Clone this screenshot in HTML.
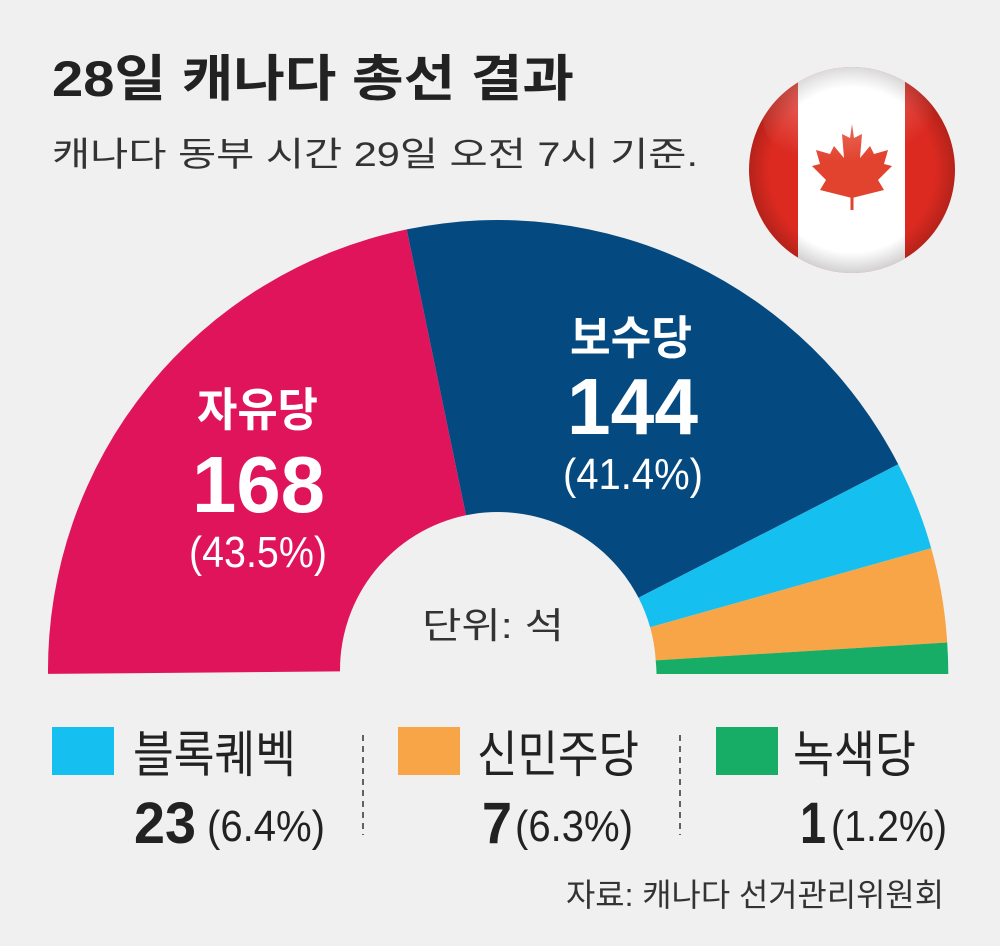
<!DOCTYPE html>
<html><head><meta charset="utf-8"><style>
html,body{margin:0;padding:0;background:#f0f0f0;}
svg{display:block;}
text{font-family:"Liberation Sans","Noto Sans CJK KR",sans-serif;}
</style></head><body>
<svg width="1000" height="946" viewBox="0 0 1000 946" xmlns="http://www.w3.org/2000/svg">
<defs>
<radialGradient id="gl" cx="0.45" cy="0.3" r="0.6">
<stop offset="0" stop-color="#fff" stop-opacity="0.35"/>
<stop offset="1" stop-color="#fff" stop-opacity="0"/>
</radialGradient>
<radialGradient id="sh" cx="0.5" cy="0.5" r="0.5">
<stop offset="0.8" stop-color="#000" stop-opacity="0"/>
<stop offset="1" stop-color="#000" stop-opacity="0.18"/>
</radialGradient>
<clipPath id="cc"><circle cx="852" cy="170" r="103"/></clipPath>
<clipPath id="bot"><rect x="0" y="0" width="1000" height="674"/></clipPath>
</defs>
<rect width="1000" height="946" fill="#f0f0f0"/>
<text x="52" y="96" font-size="50" font-weight="bold" fill="#222" textLength="522" lengthAdjust="spacingAndGlyphs">28일 캐나다 총선 결과</text>
<text x="52" y="166" font-size="34" fill="#333" textLength="646" lengthAdjust="spacingAndGlyphs">캐나다 동부 시간 29일 오전 7시 기준.</text>

<g clip-path="url(#cc)">
<rect x="740" y="60" width="230" height="230" fill="#dc2a20"/>
<rect x="798" y="60" width="107" height="230" fill="#fff"/>
<path d="M852 198 L820 190 L826 180 L812 166 L820 164 L816 150 L830 154 L834 146 L844 158 L842 134 L850 138 L852 124 L854 138 L862 134 L860 158 L870 146 L874 154 L888 150 L884 164 L892 166 L878 180 L884 190 Z" fill="#e2432e"/>
<line x1="852" y1="195" x2="852" y2="210" stroke="#e2432e" stroke-width="3"/>
<circle cx="852" cy="170" r="103" fill="url(#sh)"/>
<ellipse cx="848" cy="118" rx="85" ry="55" fill="url(#gl)"/>
</g>

<g clip-path="url(#bot)">
<path d="M48 673.9 A450 450 0 0 1 406.7 229.4 L466 515.3 A158 158 0 0 0 340 671.4 Z" fill="#e0145a"/>
<path d="M406.7 229.4 A450 450 0 0 1 898.2 464.3 L638.5 597.8 A158 158 0 0 0 466 515.3 Z" fill="#044a80"/>
<path d="M898.2 464.3 A450 450 0 0 1 931.2 548.2 L650.1 627.2 A158 158 0 0 0 638.5 597.8 Z" fill="#15bff0"/>
<path d="M931.2 548.2 A450 450 0 0 1 947.2 642.5 L655.7 660.4 A158 158 0 0 0 650.1 627.2 Z" fill="#f8a548"/>
<path d="M947.2 642.5 A450 450 0 0 1 948 690 L656 690 A158 158 0 0 0 655.7 660.4 Z" fill="#17ad66"/>
</g>

<g fill="#fff">
<text x="197" y="426" font-size="46" font-weight="bold" textLength="121" lengthAdjust="spacingAndGlyphs">자유당</text>
<text x="192" y="512" font-size="80" font-weight="bold" textLength="133" lengthAdjust="spacingAndGlyphs">168</text>
<text x="189" y="567" font-size="44" textLength="138" lengthAdjust="spacingAndGlyphs">(43.5%)</text>
<text x="570" y="354" font-size="46" font-weight="bold" textLength="122" lengthAdjust="spacingAndGlyphs">보수당</text>
<text x="567" y="434" font-size="80" font-weight="bold" textLength="131" lengthAdjust="spacingAndGlyphs">144</text>
<text x="563" y="489" font-size="44" textLength="140" lengthAdjust="spacingAndGlyphs">(41.4%)</text>
</g>
<text x="422" y="638" font-size="36" fill="#333" textLength="142" lengthAdjust="spacingAndGlyphs">단위: 석</text>

<rect x="52" y="727" width="62" height="48" fill="#15bff0"/>
<rect x="398" y="727" width="62" height="48" fill="#f8a548"/>
<rect x="716" y="727" width="62" height="48" fill="#17ad66"/>
<g font-size="50" fill="#222">
<text x="133" y="772" textLength="163" lengthAdjust="spacingAndGlyphs">블록퀘벡</text>
<text x="477" y="772" textLength="162" lengthAdjust="spacingAndGlyphs">신민주당</text>
<text x="793" y="772" textLength="123" lengthAdjust="spacingAndGlyphs">녹색당</text>
</g>
<line x1="363" y1="735" x2="363" y2="835" stroke="#333" stroke-width="1.5" stroke-dasharray="6,5"/>
<line x1="680" y1="735" x2="680" y2="835" stroke="#333" stroke-width="1.5" stroke-dasharray="6,5"/>
<g fill="#222">
<text x="134" y="843" font-size="58" font-weight="bold" textLength="62" lengthAdjust="spacingAndGlyphs">23</text>
<text x="207" y="841" font-size="44" textLength="118" lengthAdjust="spacingAndGlyphs">(6.4%)</text>
<text x="482" y="843" font-size="58" font-weight="bold" textLength="30" lengthAdjust="spacingAndGlyphs">7</text>
<text x="515" y="841" font-size="44" textLength="118" lengthAdjust="spacingAndGlyphs">(6.3%)</text>
<text x="800" y="843" font-size="58" font-weight="bold" textLength="26" lengthAdjust="spacingAndGlyphs">1</text>
<text x="831" y="841" font-size="44" textLength="116" lengthAdjust="spacingAndGlyphs">(1.2%)</text>
</g>
<text x="566" y="906" font-size="32" fill="#333" textLength="378" lengthAdjust="spacingAndGlyphs">자료: 캐나다 선거관리위원회</text>
</svg>
</body></html>
